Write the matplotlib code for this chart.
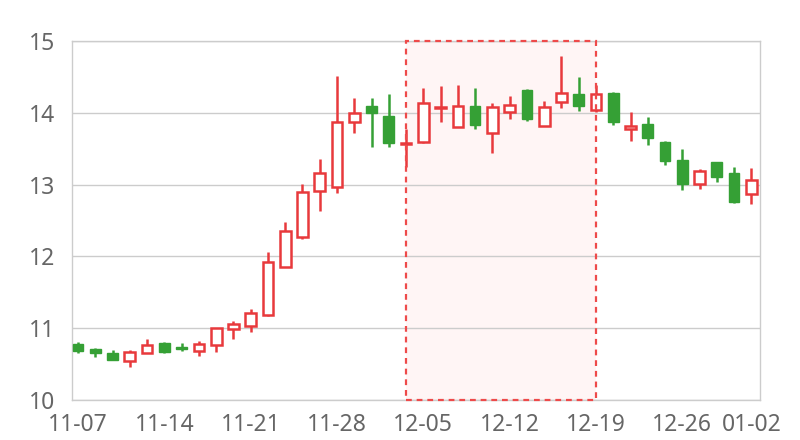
import matplotlib
matplotlib.use("Agg")
import matplotlib.pyplot as plt
from matplotlib.patches import Rectangle

# fechas (días hábiles) y datos OHLC
fechas = ["11-07", "11-08", "11-09", "11-10", "11-11",
          "11-14", "11-15", "11-16", "11-17", "11-18",
          "11-21", "11-22", "11-23", "11-24", "11-25",
          "11-28", "11-29", "11-30", "12-01", "12-02",
          "12-05", "12-06", "12-07", "12-08", "12-09",
          "12-12", "12-13", "12-14", "12-15", "12-16",
          "12-19", "12-20", "12-21", "12-22", "12-23",
          "12-26", "12-27", "12-28", "12-29", "01-02"]

apertura = [10.78, 10.71, 10.65, 10.54, 10.65, 10.79, 10.74, 10.68, 10.77, 10.99,
            11.03, 11.18, 11.85, 12.27, 12.91, 12.97, 13.87, 14.09, 13.96, 13.57,
            13.59, 14.07, 13.80, 14.09, 13.72, 14.01, 14.32, 13.82, 14.15, 14.26,
            14.04, 14.28, 13.77, 13.84, 13.59, 13.34, 13.01, 13.31, 13.16, 12.87]
cierre = [10.68, 10.65, 10.56, 10.67, 10.77, 10.67, 10.71, 10.78, 11.00, 11.06,
          11.21, 11.92, 12.35, 12.90, 13.16, 13.87, 14.00, 14.00, 13.58, 13.58,
          14.14, 14.08, 14.09, 13.83, 14.08, 14.11, 13.91, 14.08, 14.28, 14.09,
          14.26, 13.87, 13.82, 13.65, 13.33, 13.01, 13.19, 13.11, 12.76, 13.06]
maximo = [10.81, 10.72, 10.70, 10.70, 10.85, 10.81, 10.79, 10.82, 11.00, 11.10,
          11.27, 12.06, 12.48, 13.01, 13.36, 14.51, 14.21, 14.21, 14.26, 13.77,
          14.35, 14.37, 14.39, 14.35, 14.14, 14.23, 14.33, 14.16, 14.79, 14.50,
          14.39, 14.29, 14.01, 13.94, 13.61, 13.50, 13.22, 13.31, 13.25, 13.23]
minimo = [10.65, 10.60, 10.56, 10.46, 10.65, 10.65, 10.68, 10.61, 10.67, 10.85,
          10.95, 11.17, 11.85, 12.24, 12.63, 12.88, 13.72, 13.52, 13.52, 13.25,
          13.58, 13.87, 13.80, 13.77, 13.44, 13.91, 13.89, 13.82, 14.07, 14.03,
          14.01, 13.83, 13.61, 13.55, 13.27, 12.92, 12.94, 13.04, 12.74, 12.73]

zona_inicio = "12-02"
zona_fin = "12-19"

etiquetas_x = ["11-07", "11-14", "11-21", "11-28", "12-05",
               "12-12", "12-19", "12-26", "01-02"]
valores_y = [10, 11, 12, 13, 14, 15]

ROJO = "#e8393c"
VERDE = "#35a035"
GRIS = "#cccccc"

plt.rcParams["font.family"] = ["Noto Sans", "DejaVu Sans"]

fig = plt.figure(figsize=(8, 4.4), dpi=100)
ax = fig.add_axes([72 / 800, 40 / 440, 688 / 800, 359 / 440])

x = list(range(len(fechas)))

# zona marcada
x0 = fechas.index(zona_inicio)
x1 = fechas.index(zona_fin)
ax.add_patch(Rectangle((x0, 10), x1 - x0, 5, facecolor="#fff5f5",
                       edgecolor="none", zorder=0))
ax.add_patch(Rectangle((x0, 10), x1 - x0, 5, facecolor="none",
                       edgecolor="#ee4a4a", linewidth=1.6,
                       linestyle=(0, (2.6, 2.2)), zorder=5, clip_on=False))

ancho = 0.62
for i in x:
    o, c, h, l = apertura[i], cierre[i], maximo[i], minimo[i]
    sube = c >= o
    color = ROJO if sube else VERDE
    ax.vlines(i, l, h, color=color, linewidth=1.8, zorder=2)
    abajo = min(o, c)
    alto = max(abs(c - o), 0.012)
    if sube:
        ax.bar(i, alto, bottom=abajo, width=ancho, facecolor="white",
               edgecolor=color, linewidth=1.8, zorder=3)
    else:
        ax.bar(i, alto, bottom=abajo, width=ancho, facecolor=color,
               edgecolor=color, linewidth=1.0, zorder=3)

ax.set_xlim(-0.35, 39.5)
ax.set_ylim(10, 15)

ax.set_yticks(valores_y)
ax.set_yticklabels([str(v) for v in valores_y])
ax.set_xticks([fechas.index(f) for f in etiquetas_x])
ax.set_xticklabels(etiquetas_x)

ax.grid(True, axis="y", color=GRIS, linewidth=1)
ax.set_axisbelow(True)
for lado in ["left", "right", "bottom", "top"]:
    ax.spines[lado].set_color(GRIS)
    ax.spines[lado].set_linewidth(1)

ax.tick_params(axis="both", length=0, labelsize=16.5, colors="#666666")
ax.tick_params(axis="y", pad=12)
ax.tick_params(axis="x", pad=9)

fig.savefig("out.png", dpi=100)
